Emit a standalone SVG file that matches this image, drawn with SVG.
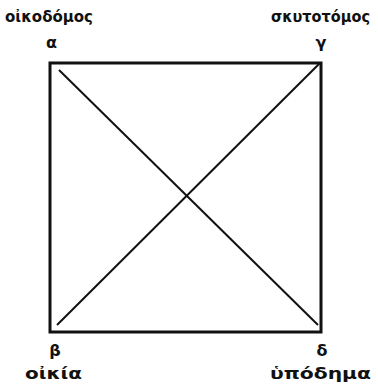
<svg xmlns="http://www.w3.org/2000/svg" width="378" height="391" viewBox="0 0 378 391">
<style>
text{font-family:"DejaVu Sans","Liberation Sans",sans-serif;font-weight:bold;font-size:16px;fill:#111}
.t{font-size:15px}
.e{stroke:#111;stroke-width:3;fill:none}
.d{stroke:#111;stroke-width:2;fill:none}
</style>
<rect width="378" height="391" fill="#fff"/>
<g id="connectors">
<rect class="e" x="50" y="63" width="271" height="269"/>
<line class="d" x1="59" y1="70" x2="318" y2="325"/>
<line class="d" x1="57" y1="325" x2="320" y2="63"/>
</g>
<g id="alpha"><text class="t" x="5" y="22" textLength="88" lengthAdjust="spacingAndGlyphs">οἰκοδόμος</text><text x="46" y="48">α</text></g>
<g id="gamma"><text class="t" x="271" y="22" textLength="99" lengthAdjust="spacingAndGlyphs">σκυτοτόμος</text><text x="321" y="48" text-anchor="middle">γ</text></g>
<g id="beta"><text x="55" y="356" text-anchor="middle">β</text><text x="25" y="379" textLength="57" lengthAdjust="spacingAndGlyphs">οἰκία</text></g>
<g id="delta"><text x="322" y="356" text-anchor="middle">δ</text><text x="270" y="379" textLength="101" lengthAdjust="spacingAndGlyphs">ὑπόδημα</text></g>
</svg>
